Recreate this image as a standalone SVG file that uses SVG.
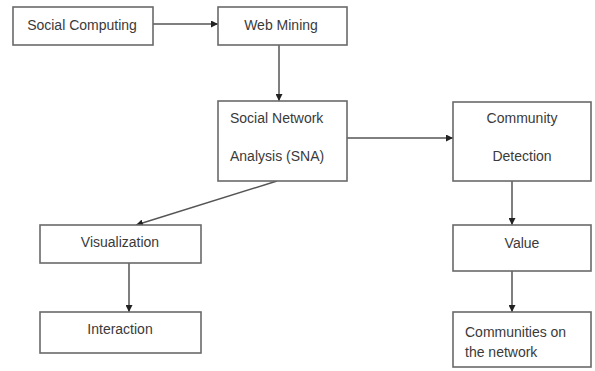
<svg xmlns="http://www.w3.org/2000/svg" width="595" height="371" viewBox="0 0 595 371">
<style>
.box{fill:#fff;stroke:#6a6a6a;stroke-width:1.6}
.t{font-family:"Liberation Sans",Arial,sans-serif;font-size:14px;fill:#3a3a3a}
.c{text-anchor:middle}
.e{stroke:#555;stroke-width:1.5;fill:none;marker-end:url(#ah)}
</style>
<defs>
<marker id="ah" viewBox="0 0 10 10" refX="10" refY="5" markerWidth="7" markerHeight="7" markerUnits="userSpaceOnUse" orient="auto">
<path d="M0,0 L10,5 L0,10 z" fill="#222"/>
</marker>
</defs>
<rect width="595" height="371" fill="#fff"/>
<g id="edges">
<line class="e" x1="153" y1="24" x2="218" y2="24"/>
<line class="e" x1="279" y1="45" x2="279" y2="101"/>
<line class="e" x1="347" y1="138" x2="453" y2="138"/>
<line class="e" x1="277" y1="181" x2="136" y2="225"/>
<line class="e" x1="129" y1="263" x2="129" y2="312"/>
<line class="e" x1="512" y1="181" x2="512" y2="225"/>
<line class="e" x1="512" y1="271" x2="512" y2="312"/>
</g>
<g id="social-computing"><rect class="box" x="13" y="7" width="140" height="38"/><text class="t c" x="82" y="30">Social Computing</text></g>
<g id="web-mining"><rect class="box" x="218" y="7" width="129" height="38"/><text class="t c" x="281" y="30">Web Mining</text></g>
<g id="sna"><rect class="box" x="218" y="101" width="129" height="80"/><text class="t" x="230" y="123">Social Network</text><text class="t" x="230" y="161">Analysis (SNA)</text></g>
<g id="community-detection"><rect class="box" x="453" y="102" width="138" height="79"/><text class="t c" x="522" y="123">Community</text><text class="t c" x="522" y="161">Detection</text></g>
<g id="visualization"><rect class="box" x="40" y="225" width="161" height="38"/><text class="t c" x="120" y="247">Visualization</text></g>
<g id="interaction"><rect class="box" x="40" y="312" width="161" height="41"/><text class="t c" x="120" y="334">Interaction</text></g>
<g id="value"><rect class="box" x="453" y="225" width="138" height="46"/><text class="t c" x="522" y="248">Value</text></g>
<g id="communities"><rect class="box" x="453" y="312" width="138" height="55"/><text class="t" x="465" y="337">Communities on</text><text class="t" x="465" y="357">the network</text></g>
</svg>
